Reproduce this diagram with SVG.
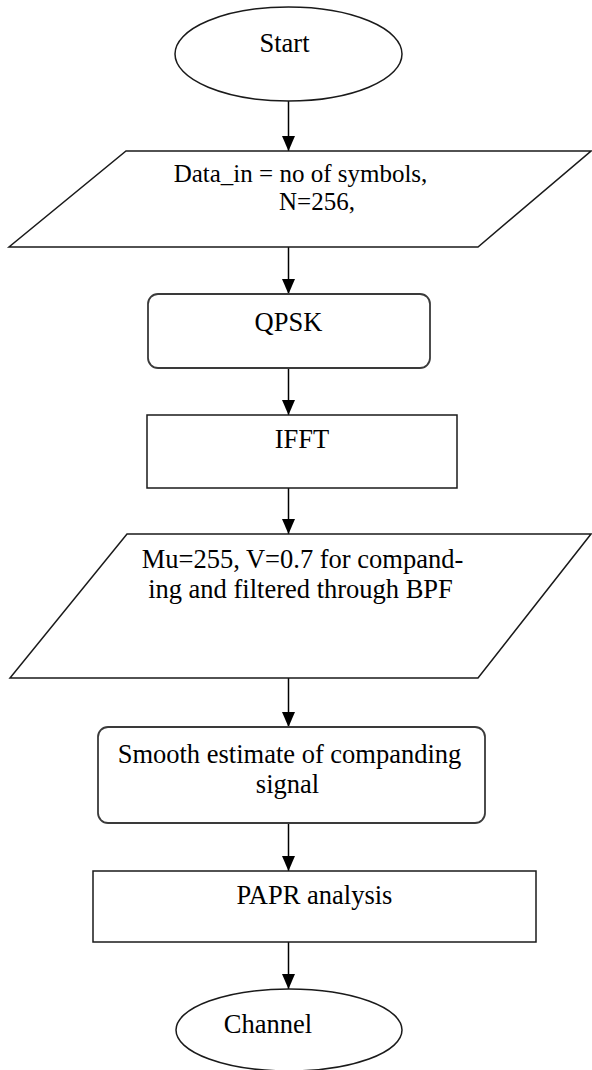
<svg xmlns="http://www.w3.org/2000/svg" width="592" height="1070" viewBox="0 0 592 1070">
  <style>
    .shape { fill: #ffffff; stroke: #1a1a1a; stroke-width: 1.5; }
    .soft { fill: #ffffff; stroke: #3a3a3a; stroke-width: 1.8; }
    .label { font-family: "Liberation Serif", "Times New Roman", serif; font-size: 26.5px; fill: #000000; text-anchor: middle; }
    .tight { font-size: 25px; }
    .flow { stroke: #000000; stroke-width: 1.5; fill: none; marker-end: url(#head); }
  </style>
  <defs>
    <marker id="head" markerUnits="userSpaceOnUse" markerWidth="15" markerHeight="13" refX="15" refY="6.5" orient="auto">
      <path d="M0,0 L15,6.5 L0,13 Z" fill="#000000"/>
    </marker>
  </defs>

  <rect width="592" height="1070" fill="#ffffff"/>

  <g id="connectors">
    <line class="flow" x1="288.5" y1="101" x2="288.5" y2="151"/>
    <line class="flow" x1="288.5" y1="247" x2="288.5" y2="294"/>
    <line class="flow" x1="288.5" y1="368" x2="288.5" y2="415"/>
    <line class="flow" x1="288.5" y1="488" x2="288.5" y2="534"/>
    <line class="flow" x1="288.5" y1="678" x2="288.5" y2="727"/>
    <line class="flow" x1="288.5" y1="823" x2="288.5" y2="871"/>
    <line class="flow" x1="288.5" y1="942" x2="288.5" y2="989"/>
  </g>

  <g id="start">
    <ellipse class="shape" cx="288.5" cy="54" rx="113.5" ry="47"/>
    <text class="label" x="284.5" y="52">Start</text>
  </g>

  <g id="data-in">
    <polygon class="shape" points="126,151 591,151 478,247 9,247"/>
    <text class="label tight" x="300.5" y="182">Data_in = no of symbols,</text>
    <text class="label tight" x="317" y="210">N=256,</text>
  </g>

  <g id="qpsk">
    <rect class="soft" x="148" y="294" width="282" height="74" rx="10" ry="10"/>
    <text class="label" x="288.5" y="331">QPSK</text>
  </g>

  <g id="ifft">
    <rect class="shape" x="147" y="415" width="310" height="73"/>
    <text class="label" x="302" y="448">IFFT</text>
  </g>

  <g id="companding">
    <polygon class="shape" points="127,534 591,534 478,678 10,678"/>
    <text class="label" x="302.5" y="568">Mu=255, V=0.7 for compand-</text>
    <text class="label" x="300.5" y="598">ing and filtered through BPF</text>
  </g>

  <g id="smooth-estimate">
    <rect class="soft" x="98" y="727" width="387" height="96" rx="10" ry="10"/>
    <text class="label" x="289.5" y="763">Smooth estimate of companding</text>
    <text class="label" x="287.5" y="793">signal</text>
  </g>

  <g id="papr">
    <rect class="shape" x="93" y="871" width="443" height="71"/>
    <text class="label" x="314.5" y="904">PAPR analysis</text>
  </g>

  <g id="channel">
    <ellipse class="shape" cx="289" cy="1030" rx="113" ry="41"/>
    <text class="label" x="268" y="1033">Channel</text>
  </g>
</svg>
